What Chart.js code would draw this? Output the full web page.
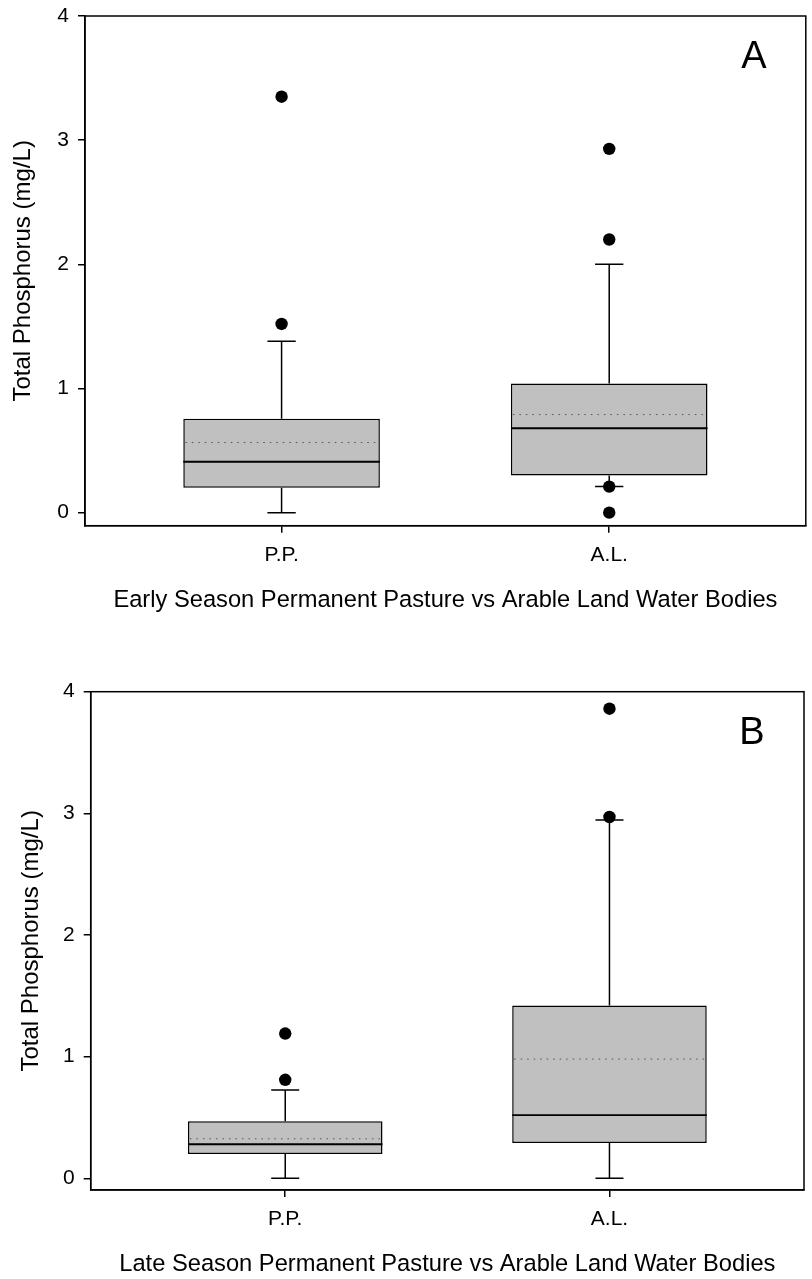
<!DOCTYPE html>
<html>
<head>
<meta charset="utf-8">
<title>Total Phosphorus</title>
<script src="https://cdn.jsdelivr.net/npm/chart.js@4.4.1/dist/chart.umd.min.js"></script>
<style>
  html, body { margin: 0; padding: 0; background: #fff; }
  canvas { position: absolute; left: 0; }
  #chartEarly { top: 0; }
  #chartLate { top: 640px; }
</style>
</head>
<body>
<canvas id="chartEarly" width="812" height="640"></canvas>
<canvas id="chartLate" width="812" height="639"></canvas>
<script>
const groups = ["P.P.", "A.L."];
const yTicks = [0, 1, 2, 3, 4];

// early season
const earlyLow = [0, 0.21];
const earlyQ1 = [0.2, 0.3];
const earlyMedian = [0.41, 0.68];
const earlyMean = [0.565, 0.79];
const earlyQ3 = [0.757, 1.04];
const earlyHigh = [1.38, 2.0];
const earlyOutliers = [[1.52, 3.35], [0, 0.21, 2.2, 2.93]];

// late season
const lateLow = [0, 0];
const lateQ1 = [0.2, 0.29];
const lateMedian = [0.28, 0.52];
const lateMean = [0.325, 0.98];
const lateQ3 = [0.47, 1.42];
const lateHigh = [0.725, 2.945];
const lateOutliers = [[0.81, 1.19], [2.97, 3.86]];

const yTitle = "Total Phosphorus (mg/L)";
const FONT = "'Liberation Sans', Arial, sans-serif";

// whiskers, median/mean lines, frame and panel letter
const boxPlotLines = {
  id: "boxPlotLines",
  beforeDatasetsDraw(chart, args, opts) {
    const { ctx, scales: { y } } = chart;
    const bars = chart.getDatasetMeta(1).data;
    ctx.save();
    ctx.strokeStyle = "#000";
    ctx.lineWidth = 1.5;
    bars.forEach((bar, i) => {
      const cap = bar.width * 0.072;
      const yLow = y.getPixelForValue(opts.low[i]);
      const yHigh = y.getPixelForValue(opts.high[i]);
      ctx.beginPath();
      ctx.moveTo(bar.x, y.getPixelForValue(opts.q3[i]));
      ctx.lineTo(bar.x, yHigh);
      ctx.moveTo(bar.x - cap, yHigh);
      ctx.lineTo(bar.x + cap, yHigh);
      ctx.moveTo(bar.x, y.getPixelForValue(opts.q1[i]));
      ctx.lineTo(bar.x, yLow);
      ctx.moveTo(bar.x - cap, yLow);
      ctx.lineTo(bar.x + cap, yLow);
      ctx.stroke();
    });
    ctx.restore();
  },
  afterDatasetsDraw(chart, args, opts) {
    const { ctx, chartArea, scales: { y } } = chart;
    const bars = chart.getDatasetMeta(1).data;
    ctx.save();
    bars.forEach((bar, i) => {
      const x0 = bar.x - bar.width / 2;
      const x1 = bar.x + bar.width / 2;
      // mediana
      const ym = y.getPixelForValue(opts.median[i]);
      ctx.strokeStyle = "#000";
      ctx.lineWidth = 1.8;
      ctx.setLineDash([]);
      ctx.beginPath();
      ctx.moveTo(x0, ym);
      ctx.lineTo(x1, ym);
      ctx.stroke();
      // media (punteada)
      const ya = y.getPixelForValue(opts.mean[i]);
      ctx.strokeStyle = "#555";
      ctx.lineWidth = 1;
      ctx.setLineDash([1.5, 5]);
      ctx.beginPath();
      ctx.moveTo(x0 + 2, ya);
      ctx.lineTo(x1, ya);
      ctx.stroke();
    });
    ctx.setLineDash([]);
    ctx.strokeStyle = "#000";
    ctx.lineWidth = 1.5;
    ctx.strokeRect(chartArea.left, chartArea.top, chartArea.right - chartArea.left, chartArea.bottom - chartArea.top);
    ctx.fillStyle = "#000";
    ctx.font = "38px " + FONT;
    ctx.textAlign = "center";
    ctx.textBaseline = "middle";
    ctx.fillText(opts.letter, chartArea.right - 52, chartArea.top + 42);
    ctx.restore();
  },
};

function graficaBox(canvasId, panel, layout) {
  const ctx = document.getElementById(canvasId);
  const outlierPoints = [];
  panel.outliers.forEach((vals, i) => {
    vals.forEach((v) => outlierPoints.push({ x: i, y: v }));
  });

  return new Chart(ctx, {
    type: "bar",
    data: {
      datasets: [
        {
          type: "line",
          data: outlierPoints,
          showLine: false,
          pointRadius: 6.2,
          pointBackgroundColor: "#000",
          pointBorderColor: "#000",
          pointBorderWidth: 0,
          order: 1,
        },
        {
          data: groups.map((g, i) => ({ x: i, y: [panel.q1[i], panel.q3[i]] })),
          backgroundColor: "#c0c0c0",
          borderColor: "#000",
          borderWidth: 1.5,
          borderSkipped: false,
          barPercentage: 0.6,
          categoryPercentage: 1,
          order: 2,
        },
      ],
    },
    options: {
      responsive: false,
      animation: false,
      layout: { padding: layout.padding },
      plugins: {
        legend: { display: false },
        tooltip: { enabled: false },
        boxPlotLines: panel,
      },
      scales: {
        x: {
          type: "linear",
          offset: false,
          min: -0.6,
          max: groups.length - 0.4,
          grid: { offset: false, drawOnChartArea: false, tickLength: 7, color: "#000", lineWidth: 1.5 },
          border: { color: "#000", width: 1.5 },
          ticks: {
            color: "#000",
            font: { family: FONT, size: 21 },
            padding: 10,
            callback: (v) => groups[v],
          },
          afterBuildTicks: (scale) => { scale.ticks = groups.map((g, i) => ({ value: i })); },
          title: {
            display: true,
            text: panel.title,
            color: "#000",
            font: { family: FONT, size: 23.7 },
            padding: { top: 0, bottom: layout.xTitlePad },
          },
          afterFit: (scale) => {
            scale.height = layout.xAxisHeight;
            scale.paddingLeft = 0;
            scale.paddingRight = 0;
          },
        },
        y: {
          min: layout.yMin,
          max: 4,
          grid: { drawOnChartArea: false, tickLength: 7, color: "#000", lineWidth: 1.5 },
          border: { color: "#000", width: 1.5 },
          ticks: { color: "#000", font: { family: FONT, size: 21 }, padding: 9 },
          afterBuildTicks: (scale) => { scale.ticks = yTicks.map((v) => ({ value: v })); },
          title: {
            display: true,
            text: yTitle,
            color: "#000",
            font: { family: FONT, size: 24 },
            padding: { top: layout.yTitlePad, bottom: 0 },
          },
          afterFit: (scale) => {
            scale.width = layout.yAxisWidth;
            scale.paddingTop = 0;
            scale.paddingBottom = 0;
          },
        },
      },
    },
    plugins: [boxPlotLines],
  });
}

graficaBox("chartEarly", {
  letter: "A",
  title: "Early Season Permanent Pasture vs Arable Land Water Bodies",
  low: earlyLow, q1: earlyQ1, median: earlyMedian, mean: earlyMean,
  q3: earlyQ3, high: earlyHigh, outliers: earlyOutliers,
}, {
  padding: { left: 0, top: 16, right: 2, bottom: 0 },
  yAxisWidth: 85, xAxisHeight: 114.3, yMin: -0.105,
  xTitlePad: 25, yTitlePad: 9,
});

graficaBox("chartLate", {
  letter: "B",
  title: "Late Season Permanent Pasture vs Arable Land Water Bodies",
  low: lateLow, q1: lateQ1, median: lateMedian, mean: lateMean,
  q3: lateQ3, high: lateHigh, outliers: lateOutliers,
}, {
  padding: { left: 0, top: 51.7, right: 8, bottom: 0 },
  yAxisWidth: 90.7, xAxisHeight: 89, yMin: -0.096,
  xTitlePad: 0, yTitlePad: 17,
});
</script>
</body>
</html>
